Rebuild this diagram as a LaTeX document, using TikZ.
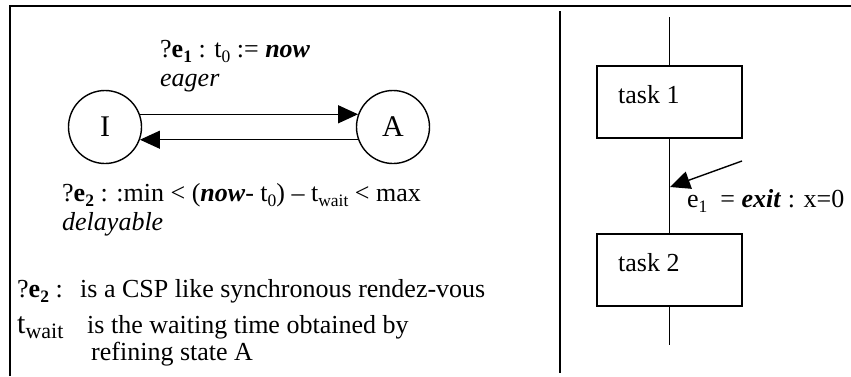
\documentclass[tikz,border=0pt]{standalone}
\usepackage{fontspec}
\setmainfont{Liberation Serif}
\usetikzlibrary{arrows.meta}
% subscripts drawn in the text font
\newcommand\lowsub[1]{\raisebox{-0.22em}{\fontsize{17.5}{17.5}\selectfont #1}}
\newcommand\nowkw{\textbf{\textit{now}}}

\begin{document}
\begin{tikzpicture}[x=1pt,y=-1pt,
  every node/.style={font=\fontsize{26}{30}\selectfont, inner sep=0pt},
  state/.style={draw, circle, minimum size=73pt, line width=1.4pt, font=\fontsize{30}{32}\selectfont},
  taskbox/.style={draw, rectangle, line width=1.4pt, minimum width=145pt, minimum height=72pt},
  flow/.style={line width=1.4pt},
  tr/.style={line width=1.4pt, -{Triangle[length=20pt,width=18pt]}},
  txt/.style={anchor=base west},
  frame/.style={line width=2pt}]
\useasboundingbox (0,0) rectangle (851,376);

% outer frame and divider
\draw[frame] (10,376) -- (10,6) -- (851,6);
\draw[frame] (560,11) -- (560,373);

% --- automaton ---
\node[state] (I) at (105,127) {I};
\node[state] (A) at (393,127) {A};
\draw[tr] (I.20) -- (A.160);
\draw[tr] (A.200) -- (I.-20);

\node[txt] (lab1) at (160,57) {?\textbf{e\lowsub{1}} : t\lowsub{0} := \nowkw};
\node[txt] (eager) at (160,86) {\textit{eager}};
\node[txt] (lab2) at (62,201) {?\textbf{e\lowsub{2}} : :min < (\nowkw- t\lowsub{0}) – t\lowsub{wait} < max};
\node[txt] (delay) at (62,230) {\textit{delayable}};

\node[txt] (n1a) at (17,297) {?\textbf{e\lowsub{2}} :};
\node[txt] (n1b) at (80,297) {is a CSP like synchronous rendez-vous};
\node[txt] (n2a) at (17,333) {{\fontsize{30}{30}\selectfont t}\raisebox{-0.2em}{\fontsize{22}{22}\selectfont wait}};
\node[txt] (n2b) at (87,333) {is the waiting time obtained by};
\node[txt] (n3) at (91,360) {refining state A};

% --- task sequence ---
\coordinate (top) at (669.5,17);
\coordinate (bot) at (669.5,345);
\node[taskbox] (t1) at (669.5,102) {};
\node[taskbox] (t2) at (669.5,270) {};
\node[txt] (t1l) at (618,103) {task 1};
\node[txt] (t2l) at (618,271) {task 2};
\draw[flow] (top) -- (t1.north);
\draw[flow] (t1.south) -- (t2.north);
\draw[flow] (t2.south) -- (bot);

\coordinate (evsrc) at (742,161);
\coordinate (evtip) at (670,187);
\draw[tr] (evsrc) -- (evtip);
\node[txt] (ev) at (687,207) {e\lowsub{1}\ \ = \textbf{\textit{exit}} : x=0};
\end{tikzpicture}
\end{document}
